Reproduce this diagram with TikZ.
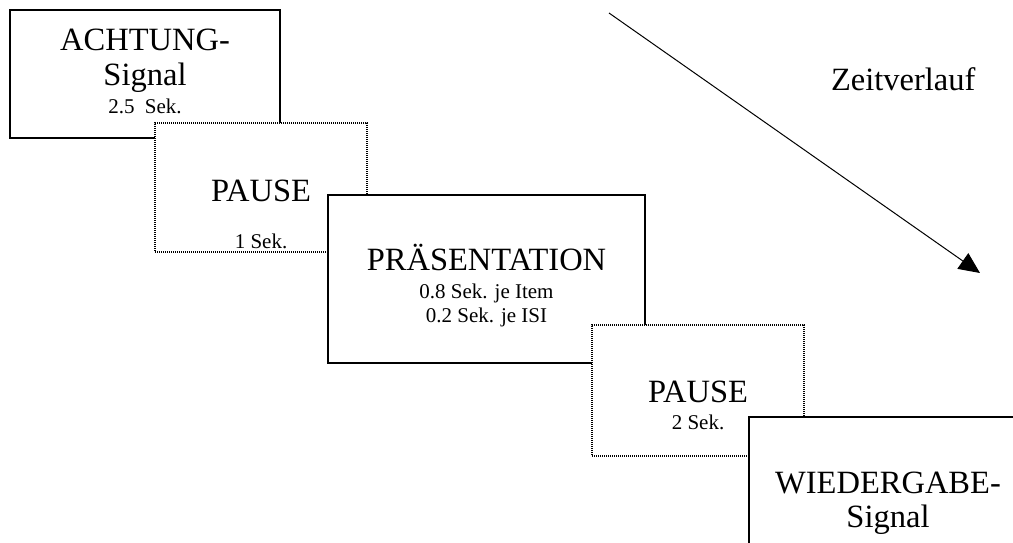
\documentclass[tikz,border=0pt]{standalone}
\usepackage{fontspec}
\setmainfont{Liberation Serif}
\usetikzlibrary{arrows.meta}
\tikzset{
    every node/.style={inner sep=0pt, outer sep=0pt}
}
\tikzset{
    phase/.style={rectangle, draw, fill=white, line width=1.5pt},
    gap/.style={phase, line width=1.2pt, dash pattern=on 1pt off 1pt},
    txt/.style={align=center, anchor=base, font=\fontsize{32.5}{35}\selectfont}
}
\newcommand{\klein}{\fontsize{21}{24}\selectfont}

\begin{document}
\begin{tikzpicture}[x=1pt, y=-1pt]
	\useasboundingbox (0,0) rectangle (1013,542);
	\clip (0,0) rectangle (1013,542);

	\node (achtung) [phase, minimum width=270pt, minimum height=128pt] at (145, 74) {};
	\node (achtungtxt) [txt] at (145, 113) {ACHTUNG-\\Signal\\[-7pt]{\klein 2.5\ \ Sek.}};

	\node (pause1) [gap, minimum width=212pt, minimum height=129pt] at (261, 187.5) {};
	\node (pause1txt) [txt] at (261, 248) {PAUSE\\[12pt]{\klein 1 Sek.}};

	\node (praes) [phase, minimum width=317pt, minimum height=168pt] at (486.5, 279) {};
	\node (praestxt) [txt] at (486.5, 322.7) {PRÄSENTATION\\[-7pt]{\klein 0.8 Sek. je Item}\\[-11pt]{\klein 0.2 Sek. je ISI}};

	\node (pause2) [gap, minimum width=212pt, minimum height=131pt] at (698, 390.5) {};
	\node (pause2txt) [txt] at (698, 429) {PAUSE\\[-8pt]{\klein 2 Sek.}};

	\node (wieder) [phase, minimum width=280pt, minimum height=160pt] at (889, 497) {};
	\node (wiedertxt) [txt] at (888, 527) {WIEDERGABE-\\[-1pt]Signal};

	% Zeitachse
	\coordinate (zstart) at (609, 13);
	\coordinate (zend) at (980, 273);
	\draw [line width=1pt, -{Triangle[length=21pt, width=19pt]}] (zstart) -- (zend);
	\node (zeit) [txt, anchor=base west] at (831, 90) {Zeitverlauf};
\end{tikzpicture}
\end{document}
